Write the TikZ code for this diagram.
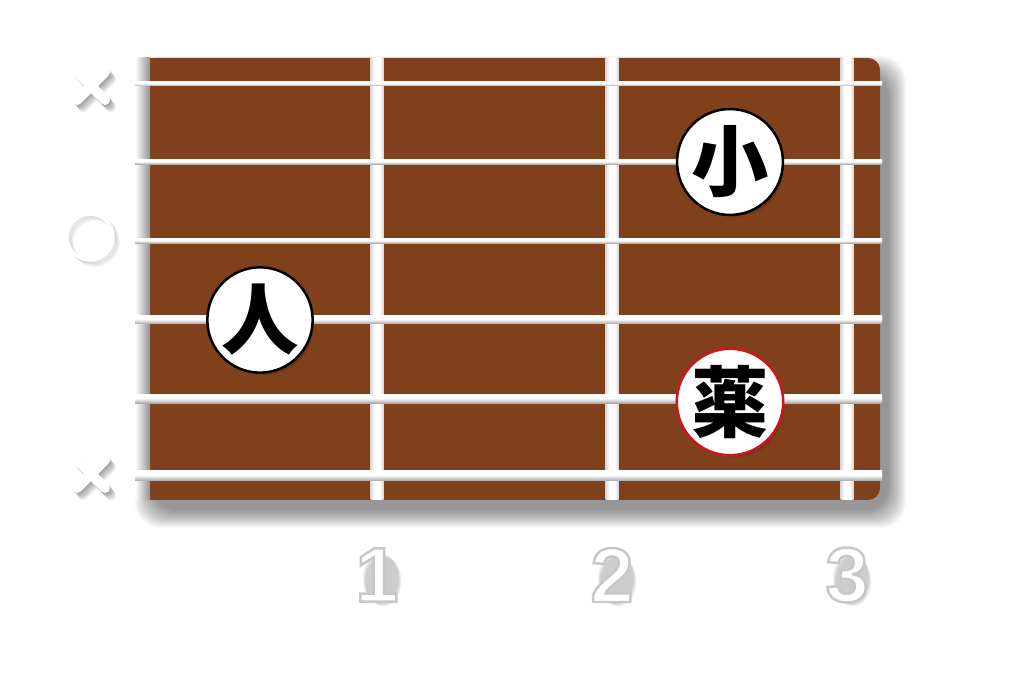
\documentclass[tikz,border=0pt]{standalone}
\usepackage{fontspec}
\setmainfont{Liberation Sans}
\newfontfamily\cjk{Noto Sans CJK JP}
\usepackage{tikz}
\usetikzlibrary{calc}
\definecolor{legno}{RGB}{128,64,28}
\definecolor{rossodito}{RGB}{205,22,32}
\pgfdeclareverticalshading{corda}{100bp}{color(0bp)=(black!80); color(30bp)=(gray!60); color(55bp)=(white); color(80bp)=(white); color(100bp)=(gray!50)}
\pgfdeclarehorizontalshading{tasto}{100bp}{color(0bp)=(gray!80); color(40bp)=(white); color(60bp)=(white); color(100bp)=(gray!90)}
\newcommand{\croce}[2]{
\foreach \d in {1,...,6} \draw[black, opacity=0.07, line width=0.1cm, line cap=round] ({#1-14+\d},{#2-14+\d*1.2}) -- ({#1+14+\d},{#2+14+\d*1.2}) ({#1-14+\d},{#2+14+\d*1.2}) -- ({#1+14+\d},{#2-14+\d*1.2});
\draw[segno] ({#1-14},{#2-14}) -- ({#1+14},{#2+14}) ({#1-14},{#2+14}) -- ({#1+14},{#2-14});
}
\newcommand{\dito}[5]{
\foreach \d in {1,...,7} \fill[black, opacity=0.07] ({#2+\d*0.8},{#3+\d}) circle (0.48cm);
\node[dito, draw=#5] (#1) at (#2,#3) {#4};
}
% cifra bianca con bordo grigio
\newcommand{\bordato}[1]{%
\special{pdf:literal direct 2 Tr 0.78 G 0.7 w}#1\special{pdf:literal direct 0 Tr}}

\begin{document}
\begin{tikzpicture}[x=0.01cm, y=-0.01cm,
    dito/.style={circle, line width=0.025cm, fill=white, minimum size=0.96cm, inner sep=0pt, font=\cjk\bfseries\fontsize{22}{22}\selectfont},
    numero/.style={inner sep=0pt, text=white, font=\bfseries\fontsize{22}{22}\selectfont},
    segno/.style={white, line width=0.1cm, line cap=round}]
    % Parametri
    \pgfmathsetmacro{\xsin}{135}
    \pgfmathsetmacro{\xdes}{880}
    \pgfmathsetmacro{\ysu}{58}
    \pgfmathsetmacro{\ygiu}{500}
    \pgfmathsetmacro{\ynum}{575}
    \useasboundingbox (0,0) rectangle (1024,683);
    % Ombra della tastiera
    \foreach \i in {0,...,18}
        \fill[black, opacity=0.028, rounded corners=0.25cm] ({\xsin+18-\i},{\ysu+16-\i}) rectangle ({\xdes+8+\i},{\ygiu+10+\i});
    % Tastiera
    \fill[legno, rounded corners=0.12cm] (\xsin,\ysu) rectangle (\xdes,\ygiu);
    % Tasti
    \foreach \x in {377,612,847}
        \shade[shading=tasto] ({\x-6.5},\ysu) rectangle ({\x+6.5},\ygiu);
    % Capotasto
    \shade[left color=white, right color=gray!85] (\xsin,\ysu) rectangle (150,\ygiu);
    % Corde
    \foreach \y/\s in {84/4,162/5,241/5,320/8,399/9,476/10}
        \shade[shading=corda] (\xsin,{\y-\s/2}) rectangle (882,{\y+\s/2});
    % Corde mute e a vuoto
    \croce{91}{86}
    \croce{91}{474}
    \foreach \d in {1,...,5}
        \draw[black, opacity=0.04, line width=0.035cm] ({90+\d},{237+\d}) circle (0.23cm);
    \draw[white, line width=0.035cm] (90,237) circle (0.23cm);
    % Dita
    \dito{indice}{260}{320}{人}{black}
    \dito{mignolo}{730}{162}{小}{black}
    \dito{anulare}{730}{402}{薬}{rossodito}
    % Numeri dei tasti
    \foreach \n/\x in {1/377,2/612,3/847}{
        \foreach \d in {1,...,6}
            \fill[black, opacity=0.035] ({\x+3+\d*0.6},{\ynum+3+\d*0.6}) ellipse (0.18cm and 0.25cm);
        \node[numero] (tasto\n) at (\x,\ynum) {\bordato{\n}};
    }
\end{tikzpicture}
\end{document}
